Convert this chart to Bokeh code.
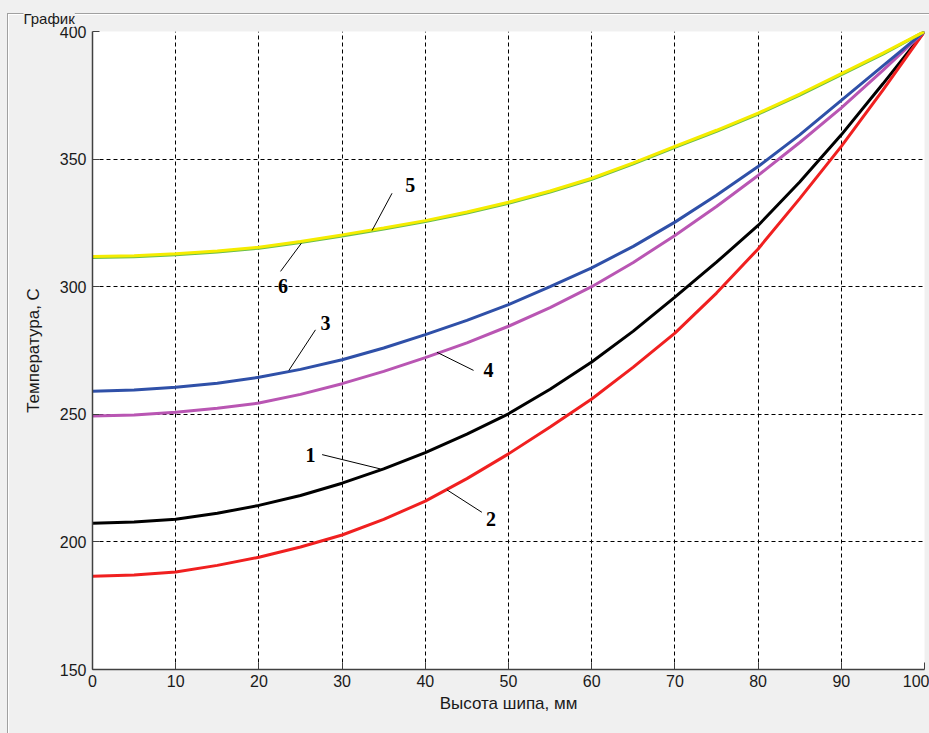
from bokeh.plotting import figure
from bokeh.models import Range1d, FixedTicker, InlineStyleSheet
from bokeh.core.properties import value
from bokeh.embed import file_html
from bokeh.resources import INLINE

# ---- data ----
height_mm = [0, 5, 10, 15, 20, 25, 30, 35, 40, 45, 50, 55, 60, 65, 70, 75, 80, 85, 90, 95, 100]
curve1_black = [207.3, 207.8, 208.9, 211.2, 214.3, 218.2, 223.0, 228.6, 235.0, 242.2, 250.2,
                259.8, 270.5, 282.6, 295.9, 309.6, 324.0, 341.0, 359.5, 379.5, 400.0]
curve2_red = [186.5, 187.0, 188.2, 190.8, 194.0, 198.0, 202.7, 208.8, 216.0, 224.8, 234.5,
              245.0, 256.0, 268.5, 281.8, 297.5, 314.8, 334.5, 355.0, 377.0, 400.0]
curve3_blue = [259.0, 259.5, 260.6, 262.2, 264.5, 267.6, 271.4, 276.0, 281.2, 286.8, 293.0,
               300.0, 307.4, 315.8, 325.3, 335.8, 347.1, 359.5, 373.0, 386.5, 400.0]
curve4_magenta = [249.3, 249.7, 250.8, 252.4, 254.4, 257.8, 262.0, 266.8, 272.2, 278.0, 284.5,
                  291.8, 300.0, 309.5, 320.1, 331.4, 343.6, 356.5, 370.1, 384.8, 400.0]
curve5_yellow = [311.8, 312.1, 312.9, 314.0, 315.5, 317.7, 320.3, 323.0, 325.9, 329.3, 333.1,
                 337.5, 342.5, 348.5, 355.0, 361.3, 368.0, 375.5, 383.5, 391.5, 400.0]
curve6_green = [311.4, 311.7, 312.5, 313.6, 315.1, 317.3, 319.9, 322.6, 325.5, 328.9, 332.7,
                337.1, 342.1, 348.1, 354.6, 360.9, 367.6, 375.1, 383.1, 391.1, 400.0]

x_ticks = [0, 10, 20, 30, 40, 50, 60, 70, 80, 90, 100]
y_ticks = [150, 200, 250, 300, 350, 400]

curve_labels = ["1", "2", "3", "4", "5", "6"]

# annotation placement (label centre, leader line start/end) in data units
label_x = [26.2, 47.9, 28.0, 47.6, 38.2, 22.9]
label_y = [234.2, 209.1, 285.7, 267.2, 339.7, 300.1]
lead_x0 = [27.6, 46.8, 26.8, 45.8, 36.0, 22.6]
lead_y0 = [234.2, 211.6, 283.1, 267.2, 336.6, 306.0]
lead_x1 = [34.6, 42.6, 23.6, 41.4, 33.6, 25.1]
lead_y1 = [228.6, 220.4, 267.2, 274.3, 322.0, 317.0]

BG = "#f0f0f0"
UI_FONT = "Liberation Sans"

p = figure(width=929, height=733, output_backend="svg", toolbar_location=None,
           x_range=Range1d(0, 100), y_range=Range1d(150, 400),
           min_border_left=92, min_border_right=5, min_border_top=31, min_border_bottom=64)
p.background_fill_color = "white"
p.border_fill_color = None
p.outline_line_color = None
p.styles = {"background-color": BG}
# group-box frame ("График") drawn as an etched line around the panel
p.stylesheets = [InlineStyleSheet(css="""
:host::before {
  content: "";
  position: absolute;
  left: 7px; top: 13px; width: 940px; height: 740px;
  border-left: 1px solid #a0a0a0; border-top: 1px solid #a0a0a0;
  box-shadow: inset 1px 1px 0 #ffffff;
  pointer-events: none;
  z-index: 0;
}
""")]

# group box caption
p.title.text = "График"
p.title.align = "left"
p.title.offset = -69
p.title.standoff = 9
p.title.text_font = UI_FONT
p.title.text_font_size = "15px"
p.title.text_font_style = "normal"
p.title.text_color = "#1a1a1a"
p.title.background_fill_color = BG
p.title.padding = 0

# axes
for ax in (p.xaxis[0], p.yaxis[0]):
    ax.axis_line_color = "#404040"
    ax.axis_line_width = 1.5
    ax.major_tick_line_color = "#404040"
    ax.major_tick_in = 7
    ax.major_tick_out = 0
    ax.minor_tick_line_color = None
    ax.major_label_text_font = UI_FONT
    ax.major_label_text_font_size = "16px"
    ax.major_label_text_color = "#1a1a1a"
    ax.axis_label_text_font = UI_FONT
    ax.axis_label_text_font_size = "17px"
    ax.axis_label_text_font_style = "normal"
    ax.axis_label_text_color = "#1a1a1a"

p.xaxis.ticker = FixedTicker(ticks=x_ticks)
p.yaxis.ticker = FixedTicker(ticks=y_ticks)
p.xaxis.axis_label = "Высота шипа, мм"
p.yaxis.axis_label = "Температура, С"
p.xaxis.major_label_standoff = 5
p.yaxis.major_label_standoff = 6
p.xaxis.axis_label_standoff = 4
p.yaxis.axis_label_standoff = 14

for g in (p.xgrid[0], p.ygrid[0]):
    g.grid_line_color = "black"
    g.grid_line_dash = "4 3"
    g.grid_line_width = 1
p.xgrid.ticker = FixedTicker(ticks=x_ticks)
p.ygrid.ticker = FixedTicker(ticks=y_ticks)

# curves
p.line(height_mm, curve1_black, line_color="black", line_width=3)
p.line(height_mm, curve2_red, line_color="#f02020", line_width=3)
p.line(height_mm, curve4_magenta, line_color="#b956b3", line_width=3)
p.line(height_mm, curve3_blue, line_color="#2f50a8", line_width=3)
p.line(height_mm, curve6_green, line_color="#6abf4b", line_width=3)
p.line(height_mm, curve5_yellow, line_color="#f5ec00", line_width=3)

# leader lines and numbers
p.segment(lead_x0, lead_y0, lead_x1, lead_y1, line_color="black", line_width=1)
p.text(label_x, label_y, text=curve_labels, text_font=value("Liberation Serif"),
       text_font_style="bold", text_font_size="20px", text_align="center",
       text_baseline="middle", text_color="black")

open("out.html", "w").write(file_html(p, INLINE))
